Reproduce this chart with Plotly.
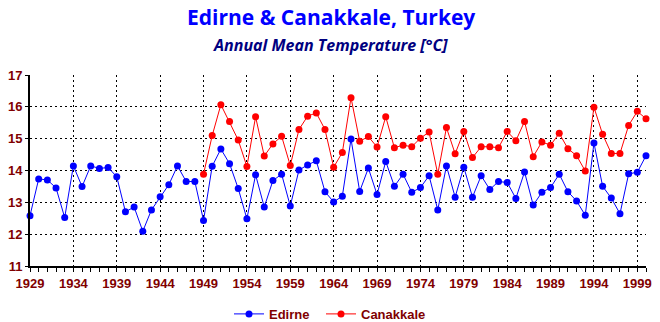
import plotly.graph_objects as go

years_edirne = list(range(1929, 2001))
edirne = [12.59, 13.74, 13.71, 13.46, 12.53, 14.15, 13.50, 14.15, 14.07, 14.10,
          13.81, 12.71, 12.86, 12.10, 12.77, 13.18, 13.56, 14.15, 13.66, 13.66,
          12.44, 14.14, 14.68, 14.22, 13.44, 12.49, 13.87, 12.86, 13.69, 13.89,
          12.89, 14.02, 14.18, 14.31, 13.34, 13.02, 13.20, 14.99, 13.35, 14.08,
          13.25, 14.29, 13.51, 13.89, 13.32, 13.47, 13.84, 12.77, 14.15, 13.17,
          14.11, 13.17, 13.84, 13.41, 13.66, 13.63, 13.13, 13.96, 12.92, 13.32,
          13.47, 13.89, 13.34, 13.05, 12.60, 14.87, 13.51, 13.14, 12.65, 13.90,
          13.95, 14.47]

years_canakkale = list(range(1949, 2001))
canakkale = [13.89, 15.10, 16.07, 15.54, 14.96, 14.13, 15.69, 14.46, 14.84, 15.08,
             14.16, 15.29, 15.71, 15.81, 15.29, 14.11, 14.57, 16.29, 14.92, 15.07,
             14.74, 15.69, 14.72, 14.80, 14.75, 15.02, 15.21, 13.89, 15.35, 14.53,
             15.23, 14.41, 14.75, 14.75, 14.72, 15.23, 14.94, 15.54, 14.44, 14.90,
             14.80, 15.17, 14.69, 14.47, 13.99, 15.99, 15.14, 14.54, 14.54, 15.42,
             15.86, 15.63]

x_tick_vals = list(range(1929, 2000, 5))
x_tick_text = [str(v) for v in x_tick_vals]
y_tick_vals = [11, 12, 13, 14, 15, 16, 17]

label_color = "#800000"
font_family = "Liberation Sans, Arial, sans-serif"

W, H = 660, 322
ML, MR, MT, MB = 20, 8, 75, 50
PW, PH = W - ML - MR, H - MT - MB


def px_x(px):
    return (px - ML) / PW


def px_y(py):
    return (H - MB - py) / PH


fig = go.Figure()
fig.add_trace(go.Scatter(
    x=years_edirne, y=edirne, name="Edirne", mode="lines+markers",
    line=dict(color="#0000ff", width=1),
    marker=dict(color="#0000ff", size=7, symbol="circle"),
    cliponaxis=False, legend="legend",
))
fig.add_trace(go.Scatter(
    x=years_canakkale, y=canakkale, name="Canakkale", mode="lines+markers",
    line=dict(color="#ff0000", width=1),
    marker=dict(color="#ff0000", size=7, symbol="circle"),
    cliponaxis=False, legend="legend2",
))

legend_common = dict(
    orientation="h",
    xref="container", yref="container",
    y=0.025, xanchor="left", yanchor="middle",
    font=dict(family=font_family, size=13, color=label_color, weight="bold"),
    bgcolor="rgba(0,0,0,0)",
)

fig.update_layout(
    width=W, height=H,
    margin=dict(l=ML, r=MR, t=MT, b=MB),
    paper_bgcolor="#ffffff",
    plot_bgcolor="#ffffff",
    hovermode=False,
    showlegend=True,
    legend=dict(x=229 / W, **legend_common),
    legend2=dict(x=321 / W, **legend_common),
    annotations=[
        dict(text="<b>Edirne &amp; Canakkale, Turkey</b>", xref="paper", yref="paper",
             x=px_x(329), y=px_y(15), xanchor="center", yanchor="middle", showarrow=False,
             font=dict(family="Open Sans, sans-serif", size=21, color="#0000ff")),
        dict(text="<b><i>Annual Mean Temperature [°C]</i></b>", xref="paper", yref="paper",
             x=px_x(328), y=px_y(44), xanchor="center", yanchor="middle", showarrow=False,
             font=dict(family="Open Sans, sans-serif", size=16, color="#000080")),
    ],
    xaxis=dict(
        range=[1929, 2000],
        tickvals=x_tick_vals, ticktext=x_tick_text,
        ticks="outside", ticklen=4, tickcolor="black", tickwidth=1,
        minor=dict(dtick=1, tick0=1929, ticks="outside", ticklen=4, tickcolor="black", showgrid=False),
        showline=True, linecolor="black", linewidth=2,
        showgrid=True, gridcolor="black", gridwidth=1, griddash="2px,3px",
        tickfont=dict(family=font_family, size=13, color=label_color, weight="bold"),
        zeroline=False, fixedrange=True,
    ),
    yaxis=dict(
        range=[11, 17],
        tickvals=y_tick_vals,
        ticks="outside", ticklen=3, tickcolor="black",
        showline=True, linecolor="black", linewidth=2,
        showgrid=True, gridcolor="black", gridwidth=1, griddash="2px,3px",
        tickfont=dict(family=font_family, size=13, color=label_color, weight="bold"),
        zeroline=False, fixedrange=True,
    ),
)

fig.write_html("out.html")
